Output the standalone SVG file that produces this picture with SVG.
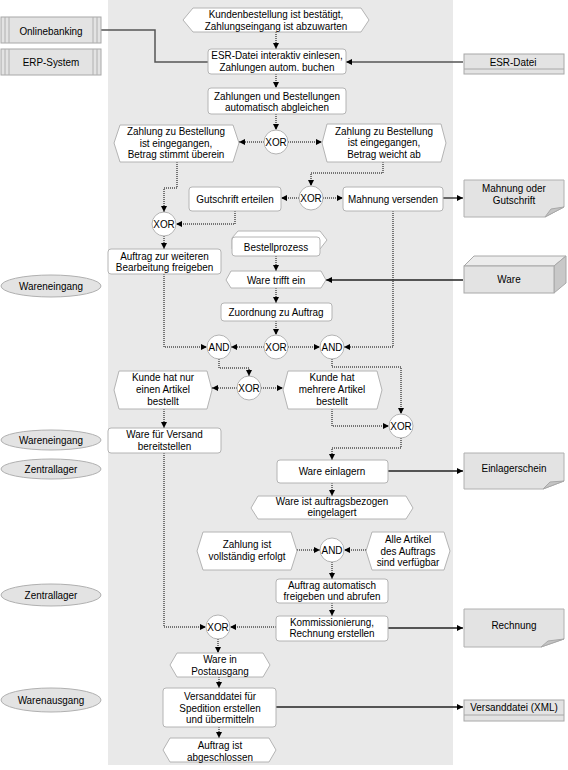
<svg xmlns="http://www.w3.org/2000/svg" width="568" height="770" viewBox="0 0 568 770">
<style>
text{font-family:"Liberation Sans",Arial,sans-serif;font-size:11px;fill:#000;text-anchor:middle}
.fn{fill:#fff;stroke:#b4b4b4;stroke-width:1}
.ev{fill:#fff;stroke:#b4b4b4;stroke-width:1}
.gw{fill:#fff;stroke:#b4b4b4;stroke-width:1}
.gr{fill:#e3e3e3;stroke:#a8a8a8;stroke-width:1}
.ln{fill:#e3e3e3;stroke:#b0b0b0;stroke-width:1}
.fold{fill:#c4c4c4;stroke:#a8a8a8;stroke-width:1}
.fl{fill:none;stroke:#000;stroke-width:1;stroke-dasharray:1 1;marker-end:url(#arr)}
.so{fill:none;stroke:#222;stroke-width:1.3;marker-end:url(#arr)}
.sg{fill:none;stroke:#555;stroke-width:1.5}
</style>
<defs>
<marker id="arr" viewBox="0 0 6 6" refX="6" refY="3" markerWidth="6" markerHeight="6" markerUnits="userSpaceOnUse" orient="auto">
<path d="M0,0 L6,3 L0,6 z" fill="#000"/>
</marker>
</defs>
<rect x="108" y="0" width="345" height="765" fill="#e9e9e9"/>

<g id="connectors">
<path class="fl" d="M276,32 V49"/>
<path class="fl" d="M276,74 V88"/>
<path class="fl" d="M276,114 V130"/>
<path class="fl" d="M264,142 H239"/>
<path class="fl" d="M288,142 H322"/>
<path class="fl" d="M383,162 V173 H311 V186"/>
<path class="fl" d="M299,198 H281"/>
<path class="fl" d="M323,198 H343"/>
<path class="fl" d="M177,162 V188 H164 V212"/>
<path class="fl" d="M235,211 V224 H176"/>
<path class="fl" d="M164,236 V249"/>
<path class="fl" d="M276,256 V271"/>
<path class="fl" d="M276,288 V303"/>
<path class="fl" d="M276,321 V335"/>
<path class="fl" d="M264,347 H231"/>
<path class="fl" d="M288,347 H320"/>
<path class="fl" d="M164,274 V347 H207"/>
<path class="fl" d="M393,211 V347 H344"/>
<path class="fl" d="M219,359 V368 H249 V376"/>
<path class="fl" d="M332,359 V367 H401 V414"/>
<path class="fl" d="M237,388 H212"/>
<path class="fl" d="M261,388 H283"/>
<path class="fl" d="M332,409 V426 H389"/>
<path class="fl" d="M164,409 V428"/>
<path class="fl" d="M401,438 V448 H332 V460"/>
<path class="fl" d="M332,483 V496"/>
<path class="fl" d="M297,550 H320"/>
<path class="fl" d="M366,550 H344"/>
<path class="fl" d="M332,562 V579"/>
<path class="fl" d="M332,603 V616"/>
<path class="fl" d="M276,627 H230"/>
<path class="fl" d="M164,453 V627 H206"/>
<path class="fl" d="M218,639 V653"/>
<path class="fl" d="M219,677 V688"/>
<path class="fl" d="M219,727 V738"/>
<path class="sg" d="M101,30 H155 V62 H208"/>
<path class="sg" d="M463,62 H346" marker-end="url(#arr)"/>
<path class="so" d="M443,198 H463"/>
<path class="so" d="M463,280 H326"/>
<path class="so" d="M388,471 H463"/>
<path class="so" d="M388,628 H463"/>
<path class="so" d="M276,707 H463"/>
</g>

<g id="n-start"><polygon class="ev" points="183,20 193,8 361,8 369,20 361,32 193,32"/><g transform="translate(276 0) scale(0.9 1)"><text y="18">Kundenbestellung ist bestätigt,</text><text y="30">Zahlungseingang ist abzuwarten</text></g></g>

<g id="n-onlinebanking"><rect class="gr" x="1" y="17" width="100" height="26"/><path d="M5,17 V43 M9,17 V43 M93,17 V43 M97,17 V43" stroke="#b0b0b0" fill="none"/><g transform="translate(51 0) scale(0.9 1)"><text y="35">Onlinebanking</text></g></g>
<g id="n-erp"><rect class="gr" x="1" y="49" width="100" height="26"/><path d="M5,49 V75 M9,49 V75 M93,49 V75 M97,49 V75" stroke="#b0b0b0" fill="none"/><g transform="translate(51 0) scale(0.9 1)"><text y="66">ERP-System</text></g></g>

<g id="n-esr"><rect class="fn" x="208" y="49" width="138" height="25" rx="3"/><g transform="translate(277 0) scale(0.9 1)"><text y="59">ESR-Datei interaktiv einlesen,</text><text y="71">Zahlungen autom. buchen</text></g></g>
<g id="n-esrdatei"><rect class="gr" x="464" y="54" width="100" height="20"/><path d="M464,69 H564" stroke="#a8a8a8"/><g transform="translate(513 0) scale(0.9 1)"><text y="66">ESR-Datei</text></g></g>

<g id="n-abgleich"><rect class="fn" x="208" y="88" width="138" height="26" rx="3"/><g transform="translate(277 0) scale(0.9 1)"><text y="100">Zahlungen und Bestellungen</text><text y="111.5">automatisch abgleichen</text></g></g>

<g id="g-xor1"><circle class="gw" cx="276" cy="142" r="12"/><g transform="translate(276 0) scale(0.9 1)"><text y="146">XOR</text></g></g>

<g id="n-ev-stimmt"><polygon class="ev" points="114,143 120,125 233,125 239,143 233,162 120,162"/><g transform="translate(176 0) scale(0.9 1)"><text y="135.5">Zahlung zu Bestellung</text><text y="147">ist eingegangen,</text><text y="158.5">Betrag stimmt überein</text></g></g>
<g id="n-ev-weicht"><polygon class="ev" points="322,143 327,124 441,124 446,143 441,162 327,162"/><g transform="translate(384 0) scale(0.9 1)"><text y="135">Zahlung zu Bestellung</text><text y="146.5">ist eingegangen,</text><text y="158">Betrag weicht ab</text></g></g>

<g id="g-xor2"><circle class="gw" cx="311" cy="198" r="12"/><g transform="translate(311 0) scale(0.9 1)"><text y="202">XOR</text></g></g>
<g id="n-gutschrift"><rect class="fn" x="189" y="187" width="92" height="24" rx="3"/><g transform="translate(235 0) scale(0.9 1)"><text y="203">Gutschrift erteilen</text></g></g>
<g id="n-mahnung"><rect class="fn" x="343" y="187" width="100" height="24" rx="3"/><g transform="translate(393 0) scale(0.9 1)"><text y="203">Mahnung versenden</text></g></g>
<g id="n-doc-mahnung"><polygon class="ln" points="464,180 564,180 564,207 545,217 464,217"/><polygon class="fold" points="545,217 564,207 551,209"/><g transform="translate(514 0) scale(0.9 1)"><text y="192">Mahnung oder</text><text y="204">Gutschrift</text></g></g>

<g id="g-xor3"><circle class="gw" cx="164" cy="224" r="12"/><g transform="translate(164 0) scale(0.9 1)"><text y="228">XOR</text></g></g>
<g id="n-auftrag-frei"><rect class="fn" x="108" y="249" width="113" height="25" rx="3"/><g transform="translate(164.5 0) scale(0.9 1)"><text y="260">Auftrag zur weiteren</text><text y="271.5">Bearbeitung freigeben</text></g></g>

<g id="n-bestellprozess"><polygon class="fn" points="232,238 238,231 320,231 327,240 320,249 232,249"/><rect class="fn" x="232" y="237" width="88" height="19" rx="3"/><g transform="translate(276 0) scale(0.9 1)"><text y="251">Bestellprozess</text></g></g>
<g id="n-ware-trifft"><polygon class="ev" points="226,280 231,271 321,271 326,280 321,288 231,288"/><g transform="translate(276 0) scale(0.9 1)"><text y="284">Ware trifft ein</text></g></g>
<g id="n-ware"><polygon points="464,266 474,256 566,256 554,266" fill="#ececec" stroke="#a8a8a8"/><polygon points="554,266 566,256 566,283 554,293" fill="#c8c8c8" stroke="#a8a8a8"/><rect class="gr" x="464" y="266" width="90" height="27"/><g transform="translate(509 0) scale(0.9 1)"><text y="283">Ware</text></g></g>
<g id="n-zuordnung"><rect class="fn" x="221" y="303" width="111" height="18" rx="3"/><g transform="translate(276 0) scale(0.9 1)"><text y="316">Zuordnung zu Auftrag</text></g></g>

<g id="g-and1"><circle class="gw" cx="219" cy="347" r="12"/><g transform="translate(219 0) scale(0.9 1)"><text y="351">AND</text></g></g>
<g id="g-xor4"><circle class="gw" cx="276" cy="347" r="12"/><g transform="translate(276 0) scale(0.9 1)"><text y="351">XOR</text></g></g>
<g id="g-and2"><circle class="gw" cx="332" cy="347" r="12"/><g transform="translate(332 0) scale(0.9 1)"><text y="351">AND</text></g></g>

<g id="g-xor5"><circle class="gw" cx="249" cy="388" r="12"/><g transform="translate(249 0) scale(0.9 1)"><text y="392">XOR</text></g></g>
<g id="n-ev-einer"><polygon class="ev" points="114,390 119,371 207,371 212,390 207,409 119,409"/><g transform="translate(163 0) scale(0.9 1)"><text y="381.5">Kunde hat nur</text><text y="393.5">einen Artikel</text><text y="405">bestellt</text></g></g>
<g id="n-ev-mehrere"><polygon class="ev" points="283,390 288,371 377,371 382,390 377,409 288,409"/><g transform="translate(332 0) scale(0.9 1)"><text y="381.5">Kunde hat</text><text y="393.5">mehrere Artikel</text><text y="405">bestellt</text></g></g>
<g id="g-xor6"><circle class="gw" cx="401" cy="426" r="12"/><g transform="translate(401 0) scale(0.9 1)"><text y="430">XOR</text></g></g>

<g id="n-versand-bereit"><rect class="fn" x="108" y="428" width="113" height="25" rx="3"/><g transform="translate(164.5 0) scale(0.9 1)"><text y="438">Ware für Versand</text><text y="450">bereitstellen</text></g></g>
<g id="n-einlagern"><rect class="fn" x="277" y="460" width="111" height="23" rx="3"/><g transform="translate(332 0) scale(0.9 1)"><text y="475">Ware einlagern</text></g></g>
<g id="n-doc-einlager"><polygon class="ln" points="464,453 564,453 564,481 543,489 464,489"/><polygon class="fold" points="543,489 564,481 550,482"/><g transform="translate(514 0) scale(0.9 1)"><text y="472">Einlagerschein</text></g></g>
<g id="n-ev-eingelagert"><polygon class="ev" points="251,508 258,496 406,496 413,508 406,519 258,519"/><g transform="translate(332 0) scale(0.9 1)"><text y="505">Ware ist auftragsbezogen</text><text y="516.5">eingelagert</text></g></g>

<g id="n-ev-zahlung"><polygon class="ev" points="197,551 203,532 291,532 297,551 291,570 203,570"/><g transform="translate(247 0) scale(0.9 1)"><text y="548.5">Zahlung ist</text><text y="560.5">vollständig erfolgt</text></g></g>
<g id="g-and3"><circle class="gw" cx="332" cy="550" r="12"/><g transform="translate(332 0) scale(0.9 1)"><text y="554">AND</text></g></g>
<g id="n-ev-artikel"><polygon class="ev" points="366,551 372,532 444,532 450,551 444,570 372,570"/><g transform="translate(408 0) scale(0.9 1)"><text y="543.5">Alle Artikel</text><text y="555">des Auftrags</text><text y="566.5">sind verfügbar</text></g></g>

<g id="n-freigeben"><rect class="fn" x="276" y="579" width="112" height="24" rx="3"/><g transform="translate(332 0) scale(0.9 1)"><text y="589">Auftrag automatisch</text><text y="600.5">freigeben und abrufen</text></g></g>
<g id="n-kommission"><rect class="fn" x="276" y="616" width="112" height="25" rx="3"/><g transform="translate(332 0) scale(0.9 1)"><text y="626">Kommissionierung,</text><text y="637.5">Rechnung erstellen</text></g></g>
<g id="n-doc-rechnung"><polygon class="ln" points="464,609 564,609 564,639 541,647 464,647"/><polygon class="fold" points="541,647 564,639 548,641"/><g transform="translate(514 0) scale(0.9 1)"><text y="629">Rechnung</text></g></g>

<g id="g-xor7"><circle class="gw" cx="218" cy="627" r="12"/><g transform="translate(218 0) scale(0.9 1)"><text y="631">XOR</text></g></g>
<g id="n-ev-postausgang"><polygon class="ev" points="170,665 177,653 263,653 270,665 263,677 177,677"/><g transform="translate(220 0) scale(0.9 1)"><text y="663.5">Ware in</text><text y="675">Postausgang</text></g></g>
<g id="n-versanddatei"><rect class="fn" x="163" y="688" width="113" height="39" rx="3"/><g transform="translate(220 0) scale(0.9 1)"><text y="700.5">Versanddatei für</text><text y="712">Spedition erstellen</text><text y="723.5">und übermitteln</text></g></g>
<g id="n-xml"><rect class="gr" x="464" y="700" width="100" height="21"/><path d="M464,715 H564" stroke="#a8a8a8"/><g transform="translate(514 0) scale(0.9 1)"><text y="711">Versanddatei (XML)</text></g></g>
<g id="n-ev-ende"><polygon class="ev" points="163,750 170,738 269,738 276,750 269,762 170,762"/><g transform="translate(220 0) scale(0.9 1)"><text y="749.5">Auftrag ist</text><text y="761">abgeschlossen</text></g></g>

<g id="lane-1"><ellipse class="ln" cx="51" cy="286" rx="50" ry="11"/><g transform="translate(51 0) scale(0.9 1)"><text y="290">Wareneingang</text></g></g>
<g id="lane-2"><ellipse class="ln" cx="51" cy="440" rx="50" ry="10"/><g transform="translate(51 0) scale(0.9 1)"><text y="444">Wareneingang</text></g></g>
<g id="lane-3"><ellipse class="ln" cx="51" cy="469" rx="50" ry="10"/><g transform="translate(51 0) scale(0.9 1)"><text y="473">Zentrallager</text></g></g>
<g id="lane-4"><ellipse class="ln" cx="51" cy="595" rx="50" ry="11"/><g transform="translate(51 0) scale(0.9 1)"><text y="599">Zentrallager</text></g></g>
<g id="lane-5"><ellipse class="ln" cx="51" cy="700" rx="50" ry="12"/><g transform="translate(51 0) scale(0.9 1)"><text y="704">Warenausgang</text></g></g>
</svg>
